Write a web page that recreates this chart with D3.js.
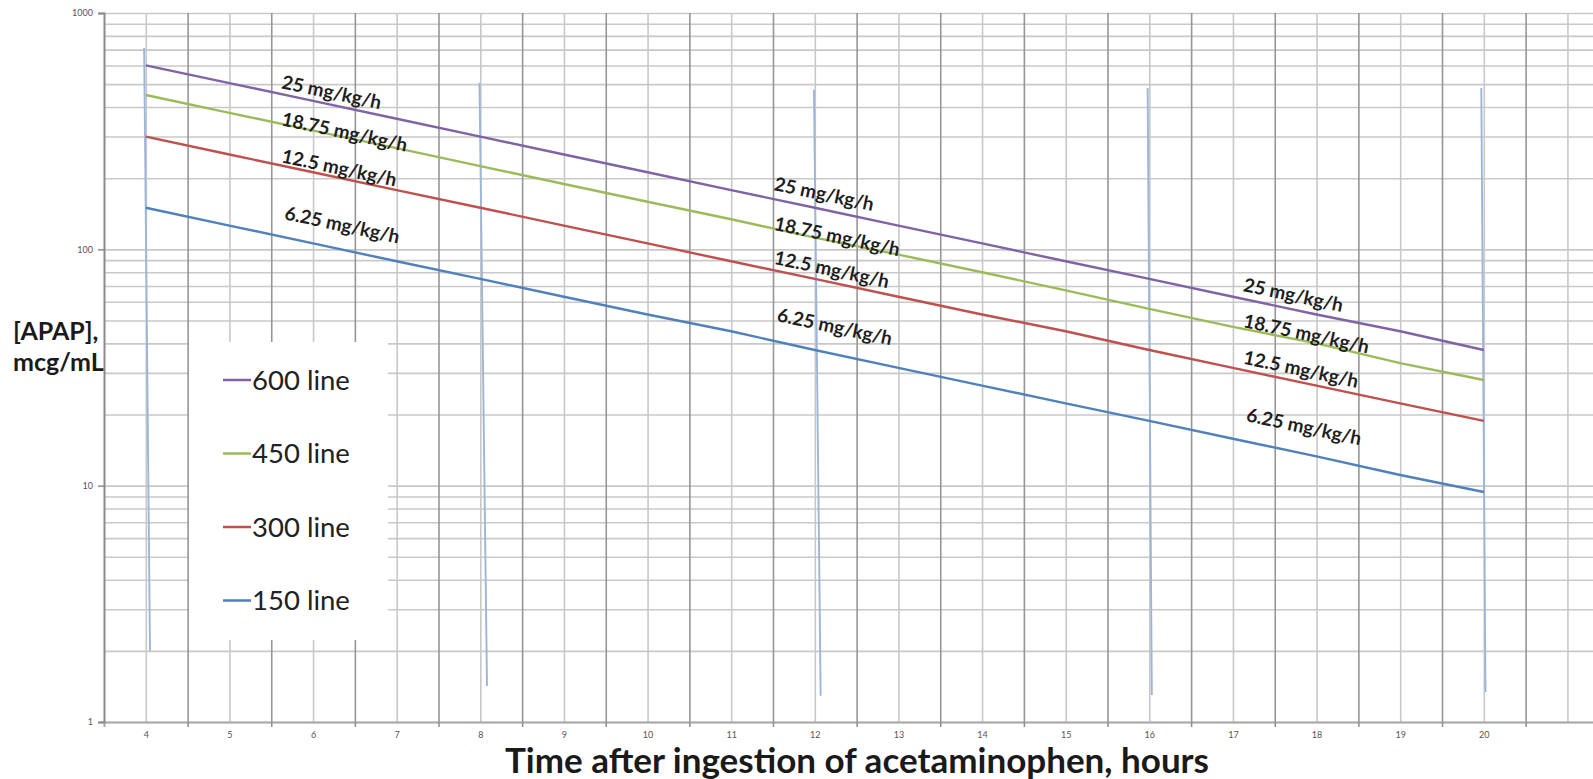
<!DOCTYPE html>
<html>
<head>
<meta charset="utf-8">
<script src="https://cdn.jsdelivr.net/npm/d3@7"></script>
<style>
  body { margin: 0; background: #fff; overflow: hidden; }
  text { font-family: Lato, "Open Sans", sans-serif; }
  .tick-label { font-size: 9px; fill: #555; }
  .rate-label { font-size: 19px; font-weight: bold; fill: #1e1e1e; }
  .legend-text { font-size: 27.5px; fill: #222; }
  .axis-title { font-weight: bold; fill: #1a1a1a; }
</style>
</head>
<body>
<div id="d3-container"></div>
<script>
/**
 * CONSTANTS AND GLOBALS
 * */
const width = 1593,
  height = 779,
  margin = { top: 13, bottom: 55, left: 104, right: 0 };

/**
 * DATA
 * */
const hours = [4, 5, 6, 7, 8, 9, 10, 11, 12, 13, 14, 15, 16, 17, 18, 19, 20];
const line600 = [600, 505, 425, 357, 300, 252, 212, 178, 150, 126, 106, 89, 75, 63, 53, 45, 37.5];
const line450 = [450, 378, 318, 268, 225, 189, 159, 134, 112, 95, 80, 67, 56, 47, 40, 33, 28];
const line300 = [300, 252, 212, 178, 150, 126, 106, 89, 75, 63, 53, 45, 37.5, 31.5, 26.5, 22.3, 18.8];
const line150 = [150, 126, 106, 89, 75, 63, 53, 45, 37.5, 31.5, 26.5, 22.3, 18.8, 15.8, 13.3, 11.1, 9.4];
const seriesNames = ["600 line", "450 line", "300 line", "150 line"];

// the thin blue drops that show up at every 4th hour
const spikeTopHours = [3.98, 7.99, 11.99, 15.98, 19.97];
const spikeBottomHours = [4.05, 8.08, 12.07, 16.03, 20.02];
const spikeTop = [711, 507, 473, 481, 482];
const spikeBottom = [2.0, 1.42, 1.29, 1.30, 1.34];

// infusion rate labels, three copies along the lines
const rateLabels = ["25 mg/kg/h", "18.75 mg/kg/h", "12.5 mg/kg/h", "6.25 mg/kg/h"];
const labelHours = [5.63, 11.52, 17.13];
const labelValues = [
  [512, 357, 249, 143],
  [190, 129, 92.5, 53],
  [71, 50, 35, 20]
];

const yTickValues = [1, 10, 100, 1000];
const colors = ["#7f63a6", "#9bbb59", "#c0504d", "#4f81bd"];

/**
 * SCALES
 * */
const xScale = d3.scaleLinear()
  .domain([3.5, 21.5])
  .range([margin.left, margin.left + 18 * 83.625]);

const yScale = d3.scaleLog()
  .domain([1, 1000])
  .range([height - margin.bottom - 2, margin.top]);

const svg = d3.select("#d3-container")
  .append("svg")
  .attr("width", width)
  .attr("height", height);

const plotBottom = yScale(1);

// GRID - horizontal (log minor lines)
svg.append("g")
  .attr("transform", `translate(${margin.left},0)`)
  .call(d3.axisLeft(yScale).ticks(10).tickSize(-(width - margin.left)).tickFormat(""))
  .call(g => g.select(".domain").remove())
  .call(g => g.selectAll("line").attr("stroke", "#c9c9c9").attr("stroke-width", 1.6));

// GRID - vertical, integer hours (lighter) and half hours (darker)
const intHours = d3.range(4, 22, 1);
const halfHours = d3.range(4.5, 22, 1);

svg.append("g")
  .attr("transform", `translate(0,${plotBottom})`)
  .call(d3.axisBottom(xScale).tickValues(intHours).tickSize(-(plotBottom - margin.top)).tickFormat(""))
  .call(g => g.select(".domain").remove())
  .call(g => g.selectAll("line").attr("stroke", "#c8c8c8").attr("stroke-width", 1.6));

svg.append("g")
  .attr("transform", `translate(0,${plotBottom})`)
  .call(d3.axisBottom(xScale).tickValues(halfHours).tickSize(-(plotBottom - margin.top)).tickFormat(""))
  .call(g => g.select(".domain").remove())
  .call(g => g.selectAll("line").attr("stroke", "#969696").attr("stroke-width", 1.6));

// small tick marks below the x axis at the half hours
svg.append("g")
  .attr("transform", `translate(0,${plotBottom})`)
  .call(d3.axisBottom(xScale).tickValues(halfHours).tickSize(5).tickFormat(""))
  .call(g => g.select(".domain").attr("stroke", "#a8a8a8").attr("stroke-width", 2))
  .call(g => g.selectAll("line").attr("stroke", "#8c8c8c").attr("stroke-width", 1.5));

// x tick labels (integers only)
svg.append("g")
  .attr("transform", `translate(0,${plotBottom})`)
  .call(d3.axisBottom(xScale).tickValues(hours).tickSize(0).tickPadding(10).tickFormat(d3.format("d")))
  .call(g => g.select(".domain").remove())
  .call(g => g.selectAll("text").attr("class", "tick-label"));

// y axis
svg.append("g")
  .attr("transform", `translate(${margin.left},0)`)
  .call(d3.axisLeft(yScale).tickValues(yTickValues).tickSize(6).tickPadding(5).tickFormat(d3.format("d")))
  .call(g => g.select(".domain").attr("stroke", "#8a8a8a").attr("stroke-width", 2))
  .call(g => g.selectAll("line").attr("stroke", "#8a8a8a").attr("stroke-width", 1.5))
  .call(g => g.selectAll("text").attr("class", "tick-label"));

// SPIKES
svg.append("g")
  .selectAll("line")
  .data(spikeTopHours)
  .join("line")
  .attr("x1", (d, i) => xScale(d))
  .attr("y1", (d, i) => yScale(spikeTop[i]))
  .attr("x2", (d, i) => xScale(spikeBottomHours[i]))
  .attr("y2", (d, i) => yScale(spikeBottom[i]))
  .attr("stroke", "#9db6d8")
  .attr("stroke-width", 1.9);

// LINES
const allSeries = [line600, line450, line300, line150];
const lineGen = d3.line()
  .x((d, i) => xScale(hours[i]))
  .y(d => yScale(d));

svg.append("g")
  .selectAll("path")
  .data(allSeries)
  .join("path")
  .attr("d", d => lineGen(d))
  .attr("fill", "none")
  .attr("stroke", (d, i) => colors[i])
  .attr("stroke-width", 2.4);

// RATE LABELS
labelHours.forEach((h, g) => {
  svg.append("g")
    .selectAll("text")
    .data(rateLabels)
    .join("text")
    .attr("class", "rate-label")
    .attr("transform", (d, i) =>
      `translate(${xScale(h) + (i === 3 ? 3 : 0)},${yScale(labelValues[g][i])}) rotate(12)`)
    .attr("dy", "0.35em")
    .text(d => d);
});

// LEGEND
const legend = svg.append("g");
legend.append("rect")
  .attr("x", 189)
  .attr("y", 342)
  .attr("width", 199)
  .attr("height", 298)
  .attr("fill", "#fff");

const legendItem = legend.selectAll(".legend-item")
  .data(seriesNames)
  .join("g")
  .attr("class", "legend-item")
  .attr("transform", (d, i) => `translate(223,${380 + i * 73.5})`);

legendItem.append("line")
  .attr("x1", 0).attr("x2", 28)
  .attr("stroke", (d, i) => colors[i])
  .attr("stroke-width", 2.5);

legendItem.append("text")
  .attr("class", "legend-text")
  .attr("x", 29)
  .attr("dy", "0.36em")
  .text(d => d);

// AXIS TITLES
svg.append("text")
  .attr("class", "axis-title")
  .attr("x", 13).attr("y", 340)
  .attr("font-size", 25)
  .text("[APAP],");

svg.append("text")
  .attr("class", "axis-title")
  .attr("x", 13).attr("y", 371)
  .attr("font-size", 25)
  .text("mcg/mL");

svg.append("text")
  .attr("class", "axis-title")
  .attr("x", 505).attr("y", 773)
  .attr("font-size", 35)
  .text("Time after ingestion of acetaminophen, hours");
</script>
</body>
</html>
